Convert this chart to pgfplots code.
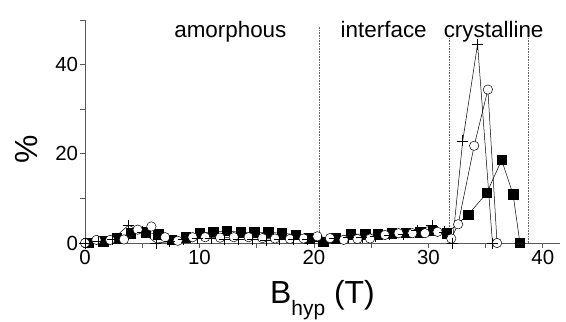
\documentclass[border=0pt]{standalone}
\usepackage{pgfplots}
\pgfplotsset{compat=1.18}
\usepackage{fontspec}
\setmainfont{Liberation Sans}
\begin{document}
\begin{tikzpicture}
\useasboundingbox (-85bp,-79bp) rectangle (481bp,243bp);
\begin{axis}[
  at={(0,0)}, anchor=south west,
  scale only axis, width=475bp, height=223bp,
  xmin=0, xmax=41.5, ymin=0, ymax=50,
  axis lines=left, axis line style={-, draw=black!65, line width=0.7bp},
  clip=false,
  xtick={0,10,20,30,40}, minor xtick={5,15,25,35},
  ytick={0,20,40}, minor ytick={10,30,50},
  tick align=outside, major tick length=5bp, minor tick length=5bp,
  every tick/.style={draw=black!65, line width=0.7bp},
  tick label style={font=\fontsize{20.5}{20.5}\selectfont},
  yticklabel style={xshift=1.5bp},
  xticklabel style={yshift=1.5bp},
  /pgf/number format/assume math mode=true,
  xlabel={B\raisebox{-0.4em}{\fontsize{21}{21}\selectfont hyp} (T)},
  xlabel style={font=\fontsize{32}{32}\selectfont, at={(axis description cs:0.5,-0.15)}, anchor=north},
  ylabel={\%},
  ylabel style={font=\fontsize{32}{32}\selectfont, at={(axis description cs:-0.124,0.42)}, anchor=center, rotate=0},
]
\addplot[densely dotted, black!60, line width=0.6bp] coordinates {(20.5,0) (20.5,48.5)};
\addplot[densely dotted, black!60, line width=0.6bp] coordinates {(31.8,0) (31.8,46.5)};
\addplot[densely dotted, black!60, line width=0.6bp] coordinates {(38.7,0) (38.7,48.5)};

% filled squares
\addplot[black, line width=0.5bp, mark=square*, mark size=4.7bp, mark options={fill=black}] coordinates {
(0.3,0) (1.6,0.4) (2.8,1.1) (4.0,2.2) (5.3,2.4) (6.4,2.0) (7.6,0.7) (8.8,1.3) (10.0,2.2) (11.2,2.5)
(12.4,2.7) (13.6,2.4) (14.8,2.4) (16.0,2.4) (17.2,2.2) (18.4,1.9) (19.6,1.1) (20.8,0.3) (21.9,1.1)
(23.2,2.0) (24.5,2.0) (25.6,2.0) (26.8,2.2) (28.0,2.3) (29.3,2.4) (30.4,2.7) (31.6,2.2) (33.5,6.4)
(35.1,11.2) (36.4,18.6) (37.4,10.9) (38.0,0)};

% open circles
\addplot[black, line width=0.5bp, mark=*, mark size=4.7bp, mark options={fill=white}] coordinates {
(0,0) (1.0,0.7) (2.2,0.7) (3.4,0.8) (4.6,3.0) (5.8,3.7) (7.0,1.3) (8.1,0.5) (9.4,1.3) (10.5,1.3)
(11.8,1.2) (13.0,1.3) (14.3,1.3) (15.5,1.1) (16.6,1.0) (17.9,0.9) (19.1,1.0) (20.3,1.5) (21.4,1.1)
(22.6,0.7) (23.8,0.9) (24.9,1.0) (26.2,1.8) (27.4,2.2) (28.6,2.2) (29.7,2.2) (30.8,2.5) (32.0,1.0)
(32.6,4.2) (34.0,21.8) (35.2,34.4) (36.0,0)};

% plus
\addplot[black, line width=0.5bp, mark=+, mark size=5.5bp] coordinates {
(0,0) (1.2,0.3) (2.4,0.8) (3.8,4.0) (5.0,2.5) (6.2,0) (7.4,0.3) (8.6,0.8) (9.8,1.0) (11.0,1.0)
(12.2,0.8) (13.4,0.8) (14.6,0.8) (15.8,0.6) (17.0,0.8) (18.2,0.8) (19.4,0.8) (20.6,0.5) (21.8,1.0)
(23.0,1.2) (24.2,1.2) (25.4,1.5) (26.6,1.8) (27.8,2.0) (29.0,2.9) (30.3,3.9) (31.4,2.5) (32.1,0)
(33.0,22.9) (34.3,44.6) (35.6,0)};

\node[font=\fontsize{22.5}{22.5}\selectfont, anchor=base] at (axis cs:12.7,46) {amorphous};
\node[font=\fontsize{22.5}{22.5}\selectfont, anchor=base] at (axis cs:26.1,46) {interface};
\node[font=\fontsize{22.5}{22.5}\selectfont, anchor=base] at (axis cs:35.7,46) {crystalline};
\end{axis}
\end{tikzpicture}
\end{document}
